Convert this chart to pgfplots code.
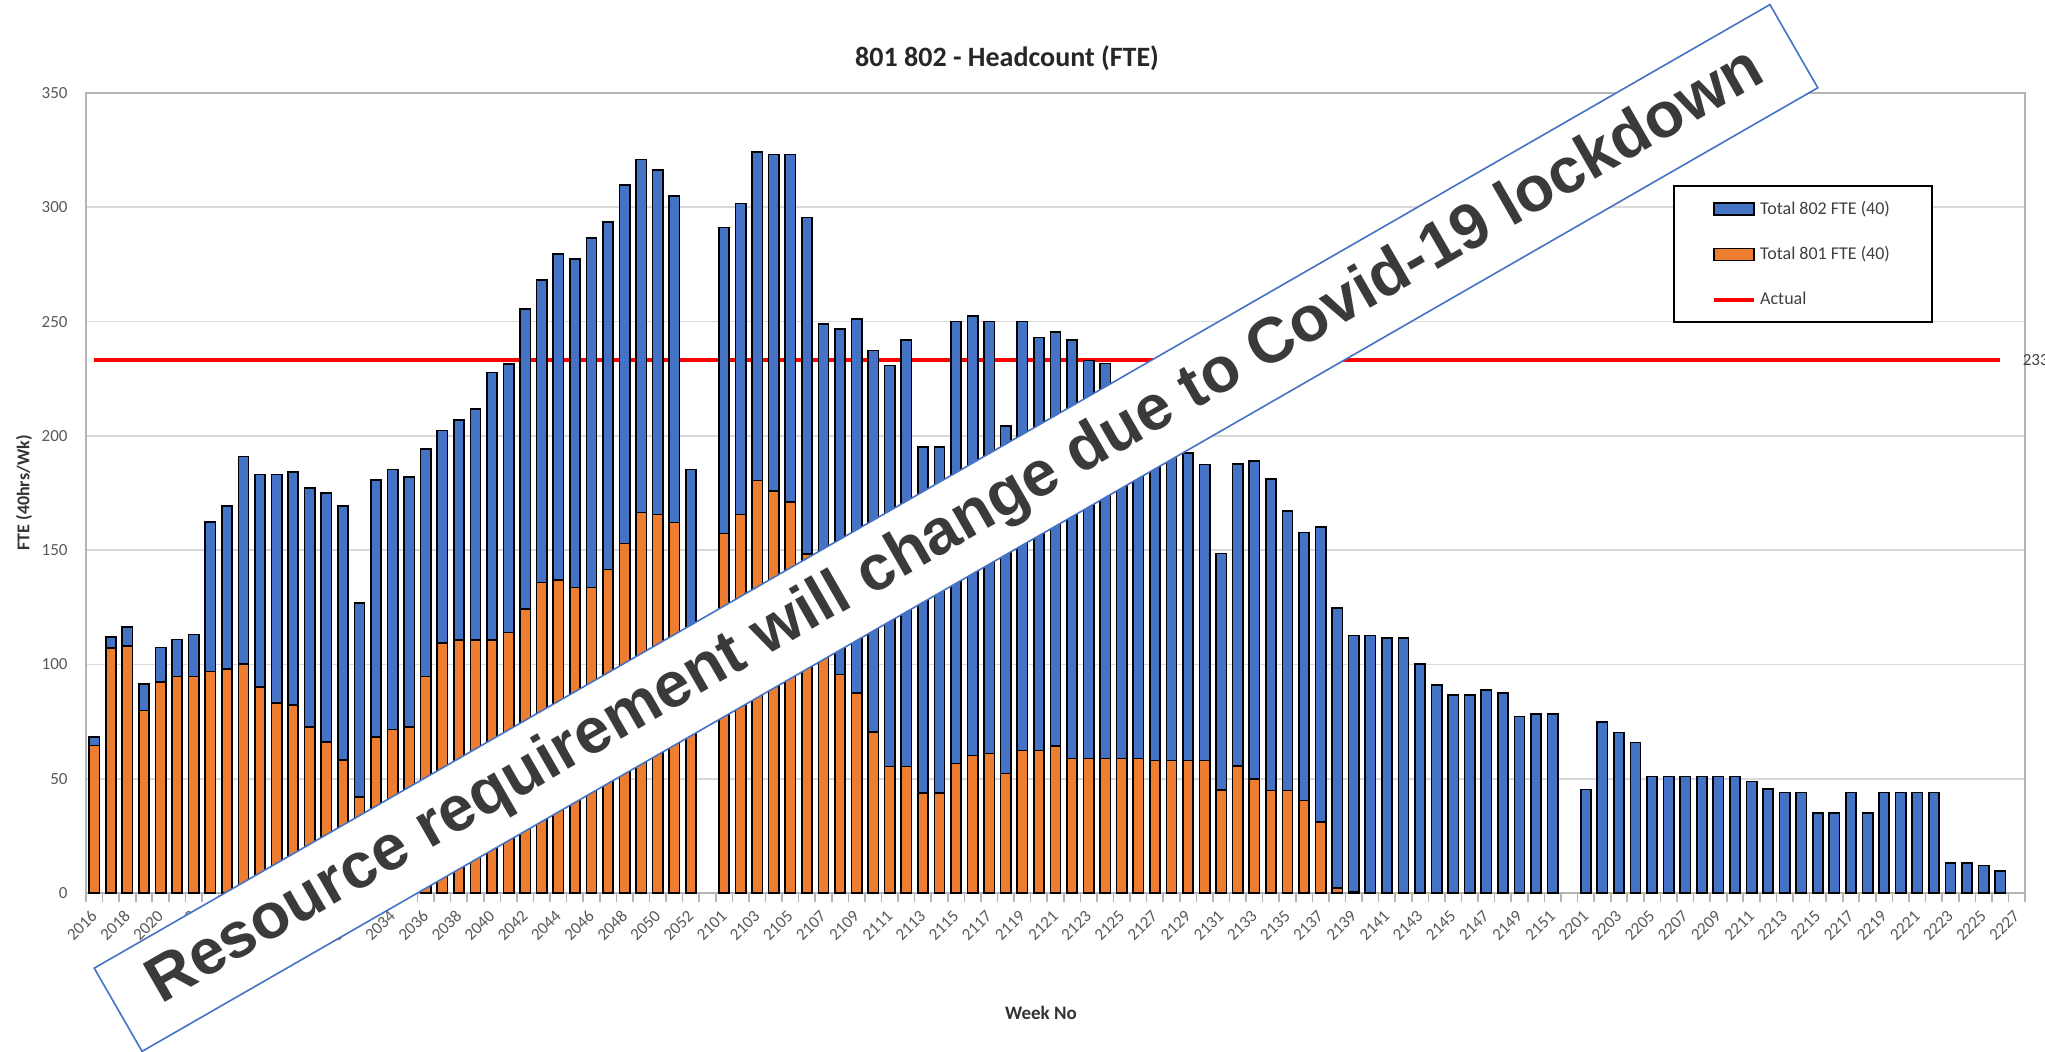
\documentclass[border=0pt]{standalone}
\usepackage{fontspec}
\setmainfont{Carlito}
\newfontfamily\wmfont{Liberation Sans}
\usepackage{pgfplots}
\pgfplotsset{compat=1.18}
\usepackage{pgfplotstable}
\definecolor{b802}{HTML}{4472C4}
\definecolor{o801}{HTML}{ED7D31}
\definecolor{gridc}{HTML}{D9D9D9}
\definecolor{framec}{HTML}{B4B4B4}
\definecolor{tickc}{HTML}{595959}
\definecolor{wmtext}{HTML}{3A3A3A}

\pgfplotstableread{
idx o b
0 64.5 3.7
1 107.1 4.8
2 108.1 8.3
3 79.8 11.6
4 92.2 15.2
5 94.8 16.1
6 94.8 18.3
7 96.9 65.5
8 98.0 71.3
9 100.1 90.9
10 90.0 93.1
11 83.1 100.0
12 82.3 102.0
13 72.7 104.6
14 66.1 108.9
15 58.1 111.2
16 42.0 85.0
17 68.2 112.6
18 71.5 113.8
19 72.7 109.3
20 94.8 99.5
21 109.3 93.0
22 110.8 96.2
23 110.8 101.0
24 110.8 117.0
25 114.0 117.5
26 124.3 131.3
27 135.9 132.4
28 136.9 142.7
29 133.6 143.8
30 133.6 153.0
31 141.6 151.9
32 152.9 156.9
33 166.4 154.5
34 165.6 150.6
35 162.1 142.9
36 95.0 90.2
38 157.3 133.9
39 165.6 136.0
40 180.5 143.6
41 175.9 147.1
42 171.1 151.9
43 148.3 147.2
44 118.0 131.0
45 95.6 151.1
46 87.6 163.6
47 70.4 167.0
48 55.4 175.4
49 55.4 186.6
50 43.8 151.2
51 43.8 151.2
52 56.7 193.3
53 60.2 192.3
54 61.0 189.0
55 52.2 152.1
56 62.4 187.6
57 62.4 180.6
58 64.2 181.2
59 58.9 183.1
60 58.9 174.1
61 58.9 172.7
62 58.9 156.1
63 58.9 146.1
64 58.0 140.0
65 58.0 135.0
66 58.0 134.6
67 58.0 129.5
68 45.1 103.4
69 55.5 132.1
70 50.0 139.0
71 44.8 136.2
72 44.8 122.4
73 40.4 117.3
74 31.1 129.1
75 2.3 122.3
76 0.5 112.1
77 0 112.6
78 0 111.5
79 0 111.5
80 0 100.2
81 0 91.1
82 0 86.5
83 0 86.5
84 0 88.7
85 0 87.6
86 0 77.3
87 0 78.4
88 0 78.4
90 0 45.3
91 0 74.8
92 0 70.3
93 0 65.8
94 0 50.9
95 0 50.9
96 0 50.9
97 0 50.9
98 0 50.9
99 0 50.9
100 0 48.7
101 0 45.5
102 0 44.0
103 0 44.0
104 0 35.0
105 0 35.0
106 0 44.0
107 0 35.0
108 0 44.0
109 0 44.0
110 0 44.0
111 0 44.0
112 0 13.1
113 0 13.1
114 0 12.1
115 0 9.7
}\data

\begin{document}
\begin{tikzpicture}
\path[use as bounding box] (-43pt,-79.5pt) rectangle (979.5pt,446.5pt);
\begin{axis}[
  at={(0pt,0pt)}, anchor=south west,
  scale only axis, width=969.5pt, height=400pt,
  clip=false,
  xmin=-0.5, xmax=116.5, ymin=0, ymax=350,
  ybar stacked, bar width=0.62,
  ytick={0,50,...,350},
  ymajorgrids, grid style={gridc, line width=0.8pt},
  xtick={0,2,...,116},
  xticklabels={2016,2018,2020,2022,2024,2026,2028,2030,2032,2034,2036,2038,2040,2042,2044,2046,2048,2050,2052,2101,2103,2105,2107,2109,2111,2113,2115,2117,2119,2121,2123,2125,2127,2129,2131,2133,2135,2137,2139,2141,2143,2145,2147,2149,2151,2201,2203,2205,2207,2209,2211,2213,2215,2217,2219,2221,2223,2225,2227},
  minor xtick={-0.5,0.5,...,116.5},
  major tick length=0pt, minor tick length=4.5pt,
  tick align=outside, tick pos=left,
  minor tick style={draw=framec, line width=0.8pt},
  axis line style={draw=framec, line width=1pt},
  /pgf/number format/assume math mode=true,
  xticklabel style={rotate=45, anchor=east, inner sep=0pt, text=tickc, font=\fontsize{8.5}{9}\selectfont},
  xticklabel shift=10pt,
  yticklabel style={anchor=east, inner sep=0pt, text=tickc, font=\fontsize{8.5}{9}\selectfont},
  yticklabel shift=9pt,
  every axis title shift=0pt,
  title={801 802 - Headcount (FTE)},
  title style={at={(axis description cs:0.475,1.043)}, anchor=center, font=\fontsize{14}{16}\selectfont\bfseries, text=black!85},
  ylabel={FTE (40hrs/Wk)},
  ylabel style={at={(axis description cs:-0.032,0.5)}, anchor=center, font=\fontsize{9}{10}\selectfont\bfseries, text=black!80},
  xlabel={Week No},
  xlabel style={at={(axis description cs:0.4925,-0.15)}, anchor=center, font=\fontsize{9.5}{10}\selectfont\bfseries, text=black!80},
  legend style={at={(axis description cs:0.8185,0.885)}, anchor=north west, draw=black, line width=1.1pt,
    font=\fontsize{9}{10}\selectfont, inner xsep=19pt, inner ysep=5.5pt, row sep=10.6pt, text=black!75},
  legend cell align=left,
]
\addlegendimage{legend image code/.code={\draw[fill=b802,draw=black,line width=0.9pt] (0pt,-3pt) rectangle (20pt,3pt);}}
\addlegendentry{Total 802 FTE (40)}
\addlegendimage{legend image code/.code={\draw[fill=o801,draw=black,line width=0.9pt] (0pt,-3pt) rectangle (20pt,3pt);}}
\addlegendentry{Total 801 FTE (40)}
\addlegendimage{legend image code/.code={\draw[red,line width=2pt] (0pt,0pt) -- (20pt,0pt);}}
\addlegendentry{Actual}

\addplot[forget plot, fill=o801, draw=black, line width=0.8pt] table[x=idx, y=o] {\data};
\addplot[forget plot, fill=b802, draw=black, line width=0.8pt] table[x=idx, y=b] {\data};
\addplot[forget plot, sharp plot, stack plots=false, draw=red, line width=2pt, mark=none]
  coordinates {(0,233) (115,233)}
  node[pos=1, anchor=west, text=black!75, font=\fontsize{8.5}{9}\selectfont, xshift=7pt] {233};
\end{axis}
\node[rotate=29.9, draw=b802, line width=0.8pt, fill=white, minimum width=966.5pt, minimum height=48pt, inner sep=0pt, text=wmtext, font=\wmfont\bfseries\fontsize{32}{32}\selectfont] at (435pt,182.5pt) {Resource requirement will change due to Covid-19 lockdown};
\end{tikzpicture}
\end{document}
